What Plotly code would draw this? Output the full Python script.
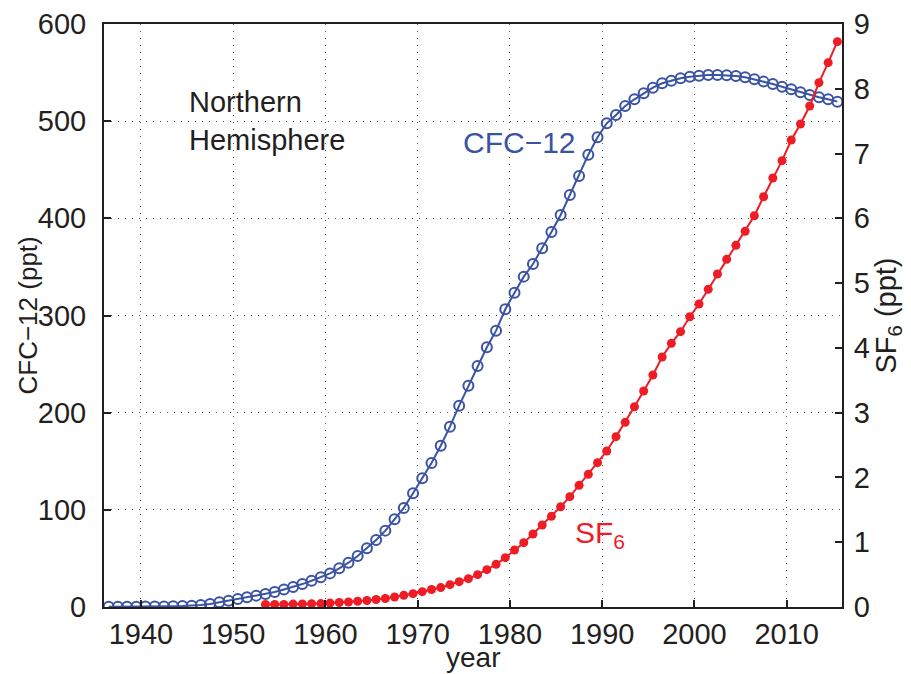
import plotly.graph_objects as go

# ---- data ----
cfc_years = [y + 0.5 for y in range(1936, 2016)]
cfc12 = [0.2, 0.2, 0.3, 0.3, 0.4, 0.5, 0.6, 0.8, 1.0, 1.4,
         2.0, 3.0, 4.8, 6.5, 8.2, 10.0, 11.7, 13.4, 15.4, 18.0,
         20.7, 23.6, 27.0, 30.5, 34.6, 39.8, 45.6, 52.5, 60.4, 69.0,
         78.6, 90.2, 102.0, 117.0, 132.5, 148.2, 166.0, 185.6, 207.2, 227.8,
         248.0, 267.3, 284.4, 306.4, 323.5, 340.0, 353.0, 369.2, 386.0, 403.4,
         424.0, 443.6, 465.5, 483.4, 497.8, 506.4, 515.6, 522.5, 528.7, 534.5,
         539.0, 541.7, 544.1, 545.8, 546.8, 547.5, 547.5, 547.2, 546.5, 545.1,
         543.1, 540.7, 538.3, 535.5, 532.8, 529.7, 527.0, 524.6, 522.5, 520.1]

sf6_years = [y + 0.5 for y in range(1953, 2016)]
sf6 = [0.04, 0.04, 0.04, 0.045, 0.047, 0.05, 0.053, 0.06, 0.07, 0.078,
       0.088, 0.10, 0.115, 0.132, 0.155, 0.18, 0.206, 0.237, 0.27, 0.30,
       0.345, 0.391, 0.437, 0.499, 0.576, 0.659, 0.762, 0.88, 0.993, 1.127,
       1.266, 1.40, 1.548, 1.703, 1.878, 2.048, 2.228, 2.408, 2.63, 2.851,
       3.092, 3.334, 3.581, 3.859, 4.07, 4.25, 4.481, 4.677, 4.904, 5.14,
       5.367, 5.583, 5.80, 6.04, 6.334, 6.622, 6.89, 7.209, 7.456, 7.734,
       8.094, 8.403, 8.727]

x_ticks = [1940, 1950, 1960, 1970, 1980, 1990, 2000, 2010]
y_ticks = [0, 100, 200, 300, 400, 500, 600]
y2_ticks = [0, 1, 2, 3, 4, 5, 6, 7, 8, 9]

BLUE = "#3A53A4"
RED = "#EE1C25"
INK = "#231F20"
FONT = "Liberation Sans, Arial, sans-serif"
FS = 29

fig = go.Figure()
fig.add_trace(go.Scatter(
    x=cfc_years, y=cfc12, mode="lines+markers", name="CFC-12",
    line=dict(color=BLUE, width=2),
    marker=dict(symbol="circle-open", size=10, color=BLUE, line=dict(width=2)),
    yaxis="y", showlegend=False))
fig.add_trace(go.Scatter(
    x=sf6_years, y=sf6, mode="lines+markers", name="SF6",
    line=dict(color=RED, width=2),
    marker=dict(symbol="circle", size=9, color=RED),
    yaxis="y2", showlegend=False))

axis_common = dict(showline=True, linecolor=INK, linewidth=2, ticks="inside",
                   ticklen=7, tickwidth=2, tickcolor=INK, zeroline=False,
                   automargin=False,
                   tickfont=dict(size=FS, color=INK, family=FONT))

fig.update_layout(
    width=911, height=674,
    margin=dict(l=104, r=69, t=24, b=67),
    paper_bgcolor="white", plot_bgcolor="white",
    font=dict(family=FONT, color=INK, size=FS),
    xaxis=dict(range=[1936, 2016], tickmode="array", tickvals=x_ticks,
               showgrid=True, gridcolor="#555555", gridwidth=1, griddash="1px,6px",
               mirror=True, ticklabelstandoff=0,
               **axis_common),
    yaxis=dict(range=[0, 600], tickmode="array", tickvals=y_ticks,
               showgrid=True, gridcolor="#555555", gridwidth=1, griddash="1px,6px",
               ticklabelstandoff=10,
               **axis_common),
    yaxis2=dict(range=[0, 9], tickmode="array", tickvals=y2_ticks, overlaying="y",
                side="right", showgrid=False, ticklabelstandoff=4,
                title=dict(text="SF<sub>6</sub> (ppt)", font=dict(size=FS), standoff=6),
                **axis_common),
)

# axis titles placed as in the reference
fig.add_annotation(x=0, y=0.5, xref="paper", yref="paper", text="CFC\u221212 (ppt)",
                   textangle=-90, showarrow=False, xanchor="center", yanchor="middle",
                   xshift=-77, font=dict(size=26, color=INK, family=FONT))
fig.add_annotation(x=0.5, y=0, xref="paper", yref="paper", text="year",
                   showarrow=False, xanchor="center", yanchor="middle",
                   yshift=-50, font=dict(size=28, color=INK, family=FONT))

fig.add_annotation(x=1945.0, y=500, xref="x", yref="y", text="Northern<br>Hemisphere",
                   showarrow=False, xanchor="left", yanchor="middle", align="left",
                   font=dict(size=FS, color=INK, family=FONT))
fig.add_annotation(x=1981.0, y=478, xref="x", yref="y", text="CFC\u221212",
                   showarrow=False, xanchor="center", yanchor="middle",
                   font=dict(size=30, color=BLUE, family=FONT))
fig.add_annotation(x=1989.8, y=75, xref="x", yref="y", text="SF<sub>6</sub>",
                   showarrow=False, xanchor="center", yanchor="middle",
                   font=dict(size=30, color=RED, family=FONT))

fig.write_html("out.html")
